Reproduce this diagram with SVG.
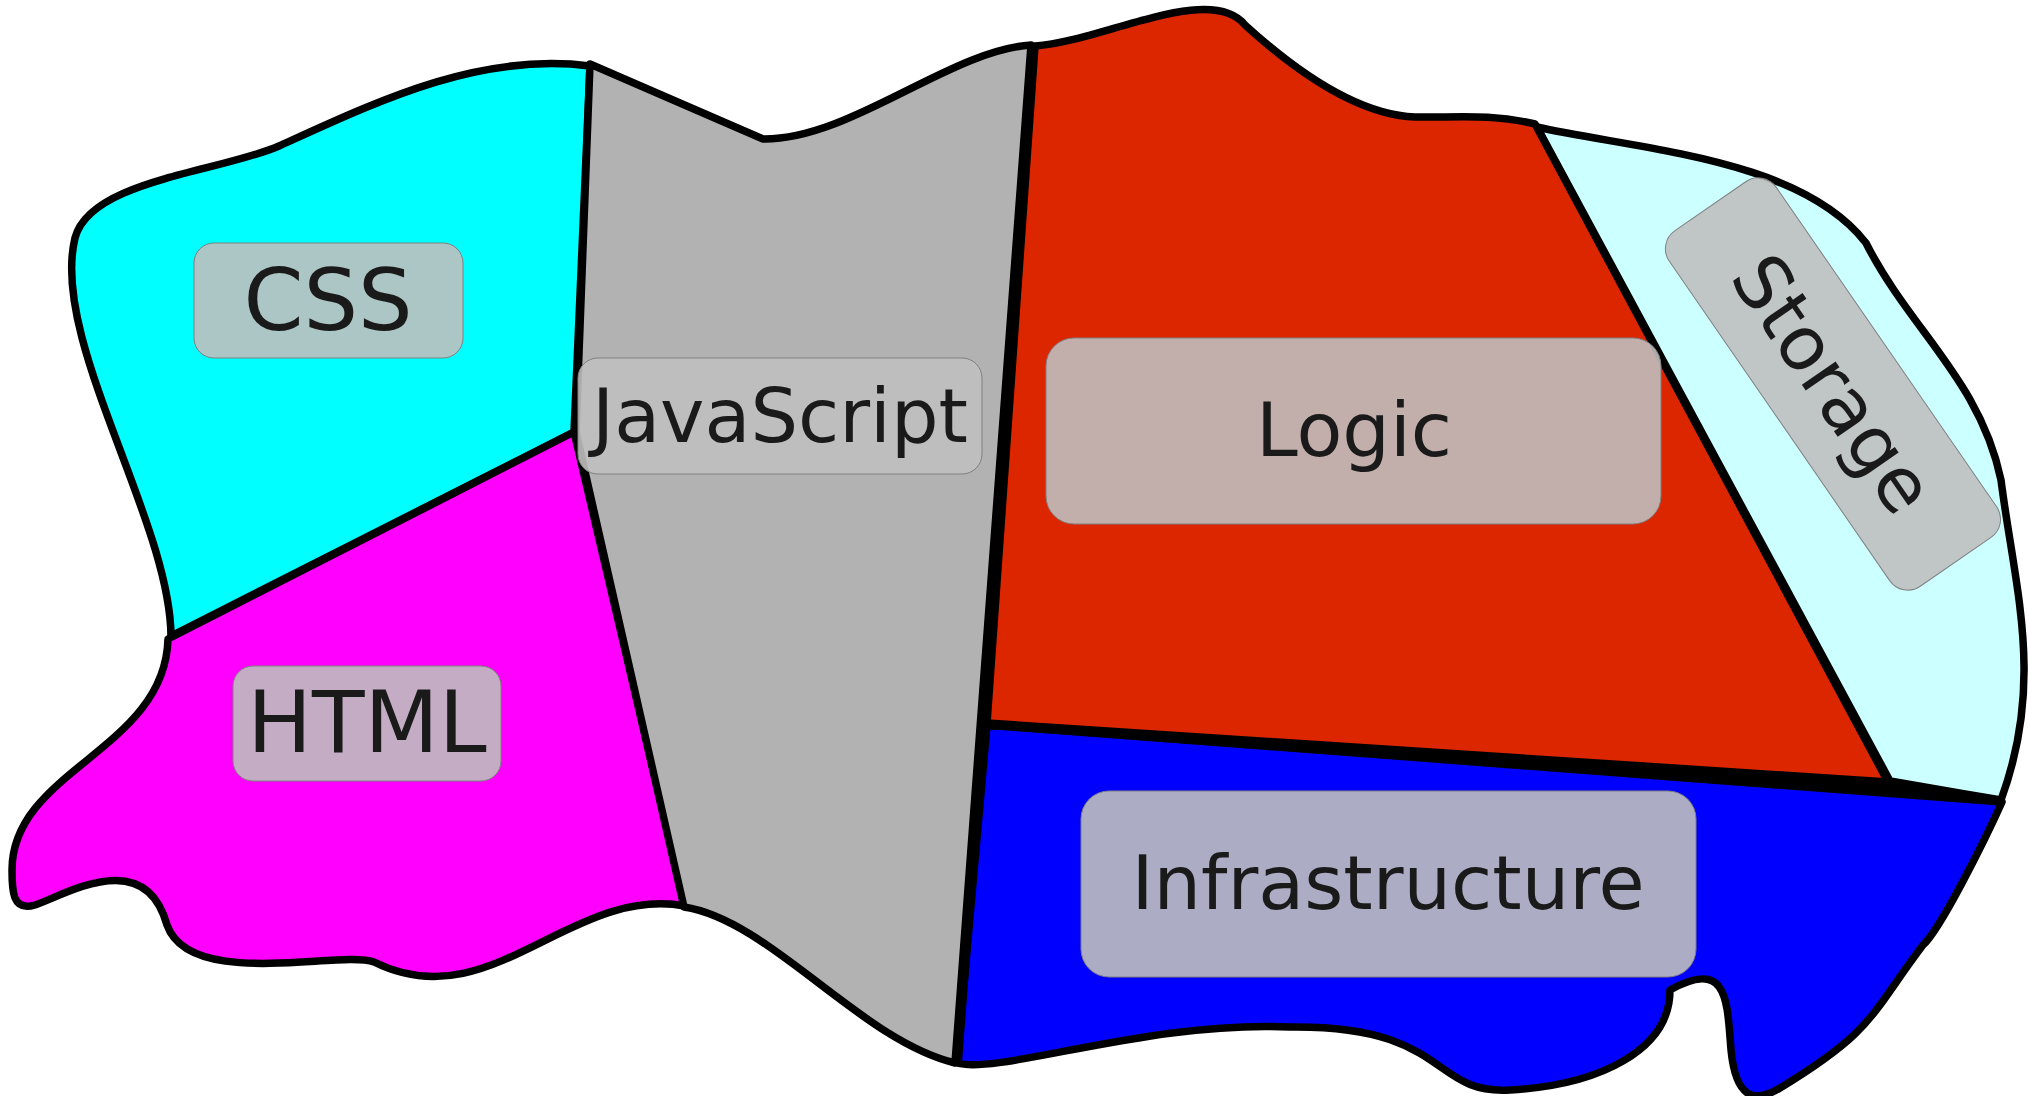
<svg xmlns="http://www.w3.org/2000/svg" width="2028" height="1096" viewBox="0 0 2028 1096">
<style>
.r{stroke:#000;stroke-width:7.5;stroke-linejoin:round}
.b{fill:#bfbfbf;fill-opacity:.9;stroke:#808080;stroke-width:1}
.t{font-family:"DejaVu Sans",sans-serif;font-size:75px;fill:#1a1a1a;text-anchor:middle}
.w{font-size:86px}
</style>
<rect width="2028" height="1096" fill="#fff"/>
<g id="region-css"><path class="r" fill="#0ff" d="M590,66 C480,52 380,100 279,146 C220,172 90,180 75,238 C50,340 170,520 171,636 L574,432 Z"/></g>
<g id="region-storage"><path class="r" fill="#cff" d="M1537,127 C1640,150 1800,158 1866,243 C1910,330 1980,380 2001,480 C2015,590 2045,680 2001,800 L1965,794 L1890,781 Z"/></g>
<g id="region-logic"><path class="r" fill="#dc2600" d="M1035,46 C1100,42 1210,-18 1245,25 C1300,75 1360,115 1415,117 C1450,118 1490,113 1535,124 L1888,782 L987,723 Z"/></g>
<g id="region-infrastructure"><path class="r" fill="#00f" d="M987,725 L2002,802 C1985,840 1940,930 1923,945 C1870,1015 1875,1030 1780,1088 C1755,1103 1736,1100 1731,1050 C1727,1000 1728,958 1670,990 C1670,1050 1600,1085 1510,1090 C1430,1095 1450,1025 1290,1027 C1150,1020 1000,1075 957,1063 Z"/></g>
<g id="region-html"><path class="r" fill="#f0f" d="M168,639 L574,432 L685,906 C570,885 490,1020 374,962 C340,950 190,990 167,925 C145,845 65,895 35,905 C12,912 12,890 12,870 C12,770 165,750 168,639 Z"/></g>
<g id="region-javascript"><path class="r" fill="#b2b2b2" d="M590,64 L763,139 C850,140 950,50 1031,45 L955,1063 C860,1040 770,920 684,907 L576,432 Z"/></g>
<g id="connectors"><path d="M1033,45 L957,1063" stroke="#000" stroke-width="10" fill="none"/><path d="M987,722 L1881,780 L1890,781 L1965,794 L2000,797 L2002,803 L987,729 Z" fill="#000"/></g>
<g id="label-css"><rect class="b" x="194" y="243" width="269" height="115" rx="20"/><text class="t w" x="328" y="330">CSS</text></g>
<g id="label-javascript"><rect class="b" x="578" y="358" width="404" height="116" rx="20"/><text class="t" x="780" y="442">JavaScript</text></g>
<g id="label-logic"><rect class="b" x="1046" y="338" width="615" height="186" rx="28"/><text class="t" x="1354" y="456">Logic</text></g>
<g id="label-html"><rect class="b" x="233" y="666" width="268" height="115" rx="20"/><text class="t w" x="367" y="752">HTML</text></g>
<g id="label-infrastructure"><rect class="b" x="1081" y="791" width="615" height="186" rx="28"/><text class="t" x="1388" y="909">Infrastructure</text></g>
<g id="label-storage" transform="translate(1833,384) rotate(55.4)"><rect class="b" x="-216" y="-65" width="432" height="130" rx="22"/><text class="t" x="0" y="26">Storage</text></g>
</svg>
